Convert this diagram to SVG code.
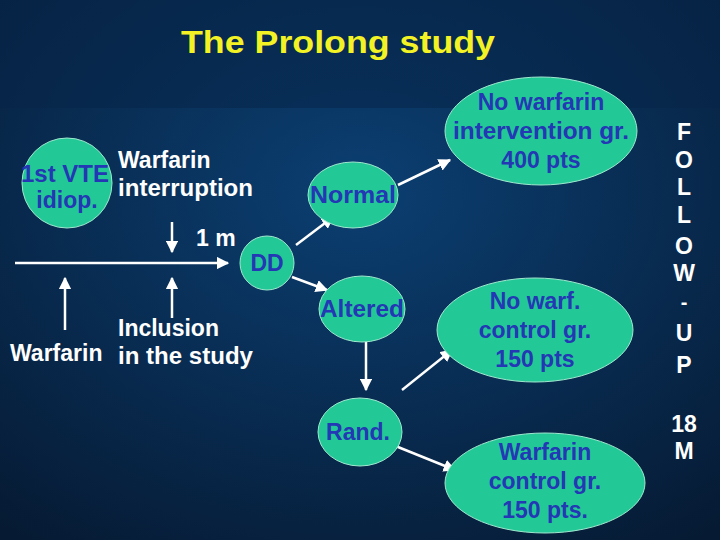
<svg xmlns="http://www.w3.org/2000/svg" width="720" height="540" viewBox="0 0 720 540">
<defs>
<radialGradient id="bg" cx="0.5" cy="0.35" r="0.8"><stop offset="0" stop-color="#0b3f72"/><stop offset="1" stop-color="#061a33"/></radialGradient>
<marker id="ah" viewBox="0 0 10 10" refX="9" refY="5" markerWidth="5" markerHeight="5" orient="auto"><path d="M0,0L10,5L0,10z" fill="#fff"/></marker>
<style>
.n{fill:#22c996;stroke:#9fe8cf;stroke-width:1}
.t{font-family:"Liberation Sans",Arial,sans-serif;font-weight:bold;font-size:23px;fill:#2437b5;text-anchor:middle}
.w{font-family:"Liberation Sans",Arial,sans-serif;font-weight:bold;font-size:23px;fill:#fff}
.c{stroke:#fff;stroke-width:2.5;fill:none;marker-end:url(#ah)}
</style>
</defs>
<rect width="720" height="540" fill="url(#bg)"/>
<rect width="720" height="108" fill="#062448" opacity="0.5"/>
<text x="338" y="53" text-anchor="middle" font-family="Liberation Sans,Arial,sans-serif" font-weight="bold" font-size="32" fill="#f2f224" textLength="314" lengthAdjust="spacingAndGlyphs">The Prolong study</text>
<g id="connectors">
<path class="c" d="M15,263H228"/>
<path class="c" d="M172,222V252"/>
<path class="c" d="M65,330V278"/>
<path class="c" d="M172,318V278"/>
<path class="c" d="M296,245L333,217"/>
<path class="c" d="M292,277L327,290"/>
<path class="c" d="M398,185L450,160"/>
<path class="c" d="M366,342V390"/>
<path class="c" d="M402,390L452,350"/>
<path class="c" d="M393,445L455,470"/>
</g>
<g id="vte"><circle class="n" cx="67" cy="183" r="45"/><text class="t" x="65" y="182" textLength="88" lengthAdjust="spacingAndGlyphs">1st VTE</text><text class="t" x="67" y="208">idiop.</text></g>
<g id="dd"><circle class="n" cx="267" cy="263" r="27"/><text class="t" x="267" y="271">DD</text></g>
<g id="normal"><ellipse class="n" cx="353" cy="195" rx="45" ry="33"/><text class="t" x="353" y="203" textLength="86" lengthAdjust="spacingAndGlyphs">Normal</text></g>
<g id="altered"><ellipse class="n" cx="362" cy="309" rx="43" ry="33"/><text class="t" x="362" y="317" textLength="84" lengthAdjust="spacingAndGlyphs">Altered</text></g>
<g id="rand"><ellipse class="n" cx="360" cy="432" rx="42" ry="34"/><text class="t" x="358" y="440">Rand.</text></g>
<g id="nowi"><ellipse class="n" cx="541" cy="131" rx="96" ry="54"/><text class="t" x="541" y="110">No warfarin</text><text class="t" x="541" y="139" textLength="176" lengthAdjust="spacingAndGlyphs">intervention gr.</text><text class="t" x="541" y="168">400 pts</text></g>
<g id="nowc"><ellipse class="n" cx="535" cy="330" rx="98" ry="52"/><text class="t" x="535" y="309">No warf.</text><text class="t" x="535" y="338">control gr.</text><text class="t" x="535" y="367">150 pts</text></g>
<g id="wc"><ellipse class="n" cx="545" cy="483" rx="100" ry="50"/><text class="t" x="545" y="460">Warfarin</text><text class="t" x="545" y="489">control gr.</text><text class="t" x="545" y="518">150 pts.</text></g>
<g class="w">
<text x="118" y="168">Warfarin</text><text x="118" y="196" textLength="135" lengthAdjust="spacingAndGlyphs">interruption</text>
<text x="196" y="246">1 m</text>
<text x="118" y="336">Inclusion</text><text x="118" y="364" textLength="135" lengthAdjust="spacingAndGlyphs">in the study</text>
<text x="10" y="361">Warfarin</text>
</g>
<g class="w" text-anchor="middle">
<text x="684" y="140">F</text><text x="684" y="168">O</text><text x="684" y="195">L</text><text x="684" y="223">L</text><text x="684" y="254">O</text><text x="684" y="281">W</text><text x="684" y="309" font-size="20">-</text><text x="684" y="341">U</text><text x="684" y="373">P</text>
<text x="684" y="432">18</text><text x="684" y="459">M</text>
</g>
</svg>
